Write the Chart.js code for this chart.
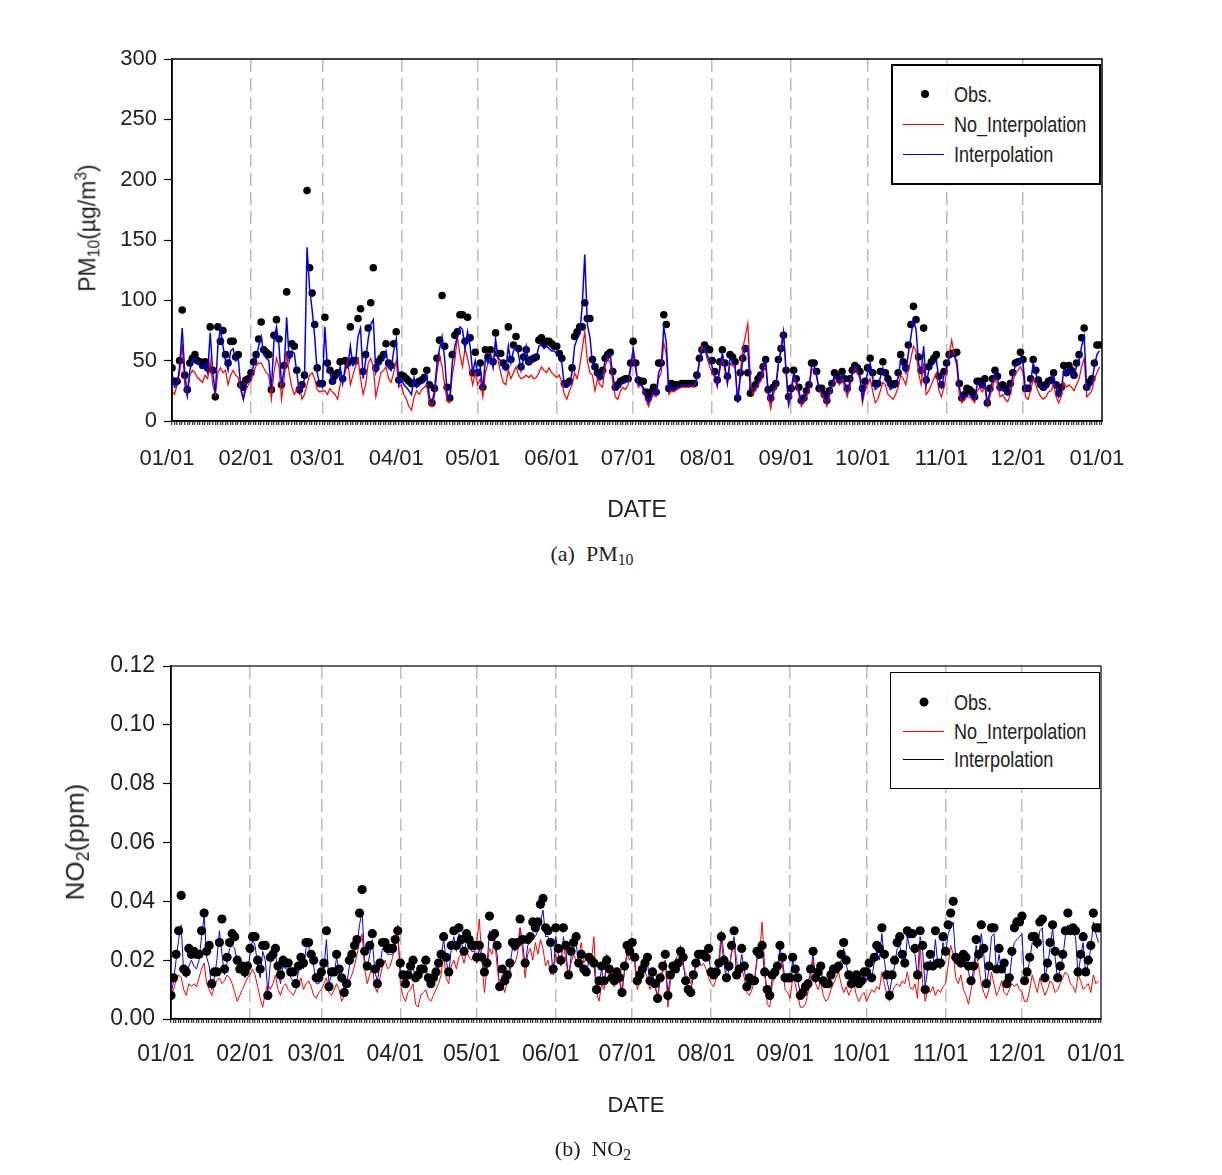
<!DOCTYPE html>
<html><head><meta charset="utf-8">
<script src="https://cdn.jsdelivr.net/npm/chart.js@4.4.1/dist/chart.umd.min.js"></script>
<style>
html,body{margin:0;padding:0;background:#fff;}
body{width:1222px;height:1175px;position:relative;overflow:hidden;font-family:'Liberation Sans',Arial,sans-serif;color:#222;}
canvas{position:absolute;left:0;}
#c1{top:0}
#c2{top:600px}
.ytitle{position:absolute;transform:translate(-50%,-50%) rotate(-90deg);white-space:nowrap;color:#222;font-family:'Liberation Sans',Arial,sans-serif;}
.ytitle sub{font-size:0.68em;vertical-align:-0.3em;}
.ytitle sup{font-size:0.68em;vertical-align:0.55em;}
.legend{position:absolute;border:2px solid #000;background:#fff;box-sizing:border-box;}
.sw{position:absolute;height:0;}
.dot{position:absolute;border-radius:50%;background:#000;transform:translate(-50%,-50%);}
.txt{position:absolute;transform:translateY(-50%) scaleX(0.82);transform-origin:left center;font-family:'Liberation Sans',Arial,sans-serif;white-space:nowrap;color:#222;line-height:1;}
.caption{position:absolute;font-family:'Liberation Serif','DejaVu Serif',serif;font-size:22px;transform:translateX(-50%);white-space:nowrap;color:#222;}
.caption sub{font-size:0.72em;vertical-align:-0.25em;}
</style>
</head>
<body>
<canvas id="c1" width="1222" height="540"></canvas>
<canvas id="c2" width="1222" height="540"></canvas>

<div class="ytitle" style="left:88px;top:228px;font-size:23px;">PM<sub>10</sub>(µg/m<sup>3</sup>)</div>
<div class="ytitle" style="left:77px;top:842px;font-size:26px;">NO<sub>2</sub>(ppm)</div>

<div class="legend" style="left:891px;top:64px;width:210px;height:121px;border-width:2px;">
  <div class="dot" style="left:32px;top:28px;width:8px;height:8px;"></div>
  <div class="sw" style="left:10px;top:58px;width:41px;border-top:1.5px solid #e00000;"></div>
  <div class="sw" style="left:10px;top:88px;width:41px;border-top:1.5px solid #0000c8;"></div>
  <div class="txt" style="left:61px;top:29px;font-size:22px;">Obs.</div>
  <div class="txt" style="left:61px;top:59px;font-size:22px;">No_Interpolation</div>
  <div class="txt" style="left:61px;top:89px;font-size:22px;">Interpolation</div>
</div>

<div class="legend" style="left:890px;top:672px;width:210px;height:117px;border-width:1px;">
  <div class="dot" style="left:33px;top:29px;width:9px;height:9px;"></div>
  <div class="sw" style="left:12px;top:58px;width:41px;border-top:1px solid #ff0000;"></div>
  <div class="sw" style="left:12px;top:86px;width:41px;border-top:1px solid #000;"></div>
  <div class="txt" style="left:63px;top:30px;font-size:22px;">Obs.</div>
  <div class="txt" style="left:63px;top:59px;font-size:22px;">No_Interpolation</div>
  <div class="txt" style="left:63px;top:87px;font-size:22px;">Interpolation</div>
</div>

<div class="caption" style="left:592px;top:541px;">(a)&nbsp; PM<sub>10</sub></div>
<div class="caption" style="left:593px;top:1136px;">(b)&nbsp; NO<sub>2</sub></div>

<script>
// ---- tick labels / categories ----
const monthLabels = ['01/01','02/01','03/01','04/01','05/01','06/01','07/01','08/01','09/01','10/01','11/01','12/01','01/01'];
const monthStarts = [0,31,59,90,120,151,181,212,243,273,304,334,365];
const seriesNames = ['Obs.','No_Interpolation','Interpolation'];

// ---- PM10 (ug/m3), daily ----
const pmObs = [44,33,33,50,92,38,26,48,52,55,
50,49,46,49,44,78,42,20,78,66,
75,55,48,66,66,53,55,30,28,34,
35,40,49,55,68,82,59,57,55,26,
71,84,68,30,46,107,55,64,62,42,
26,30,38,191,127,106,80,44,31,31,
86,48,42,33,38,40,49,35,50,48,
78,50,50,85,93,41,55,77,98,127,
44,49,52,55,64,48,46,64,74,34,
38,37,35,33,31,41,31,33,34,36,
42,30,15,27,52,67,104,62,28,19,
55,71,74,88,88,66,86,69,40,57,
40,48,28,59,53,59,49,73,56,56,
48,45,78,51,63,70,60,45,53,59,
49,51,52,53,67,69,64,66,66,64,
62,62,56,52,31,31,33,44,70,74,
78,78,98,85,85,51,45,40,37,42,
52,55,57,41,28,30,33,34,35,35,
48,66,48,34,33,33,24,19,24,28,
24,48,48,88,80,27,31,28,30,30,
31,31,31,31,31,31,38,52,59,63,
60,59,50,41,34,49,59,48,37,55,
53,49,19,40,52,60,40,23,27,30,
35,38,45,51,26,19,28,31,51,60,
71,42,20,27,42,35,28,17,19,25,
30,48,48,41,27,27,22,17,25,31,
40,37,34,41,35,27,35,42,46,44,
41,27,33,44,52,40,31,31,41,49,
40,35,31,30,31,40,55,49,44,63,
80,95,84,53,42,77,34,45,49,52,
55,37,30,41,48,55,56,56,57,31,
19,22,27,26,24,20,33,33,30,35,
15,27,35,42,37,28,30,27,24,31,
40,48,49,57,51,27,27,35,51,42,
34,30,28,30,33,34,40,30,23,28,
46,40,46,42,38,48,55,69,77,28,
32,35,48,63,63];

const pmInterp = [40,28,30,45,77,40,22,42,50,52,
48,46,44,47,40,73,40,23,62,77,
62,50,42,58,60,50,52,28,18,30,
33,38,46,52,62,70,55,52,50,26,
66,78,62,30,42,86,50,58,56,40,
23,28,35,144,110,92,70,40,30,28,
78,44,40,31,34,36,45,31,45,44,
62,46,48,70,77,35,50,68,80,84,
40,46,48,52,58,44,42,58,68,30,
35,30,28,25,22,36,28,30,32,34,
38,20,15,25,48,60,70,52,22,18,
48,62,70,78,76,60,74,62,40,50,
38,44,26,52,48,55,45,68,52,50,
44,42,62,48,58,62,55,42,52,62,
48,50,52,53,62,64,60,62,60,58,
58,56,52,48,28,28,30,40,62,68,
72,95,138,80,70,48,42,38,34,40,
50,55,55,38,26,28,30,32,32,33,
45,60,45,30,30,28,20,15,20,25,
22,40,45,78,65,25,28,26,28,28,
30,30,30,29,30,30,36,50,58,62,
55,50,45,38,30,45,56,45,32,52,
50,46,15,35,50,62,60,25,25,28,
32,36,45,50,24,16,26,30,48,58,
73,42,15,25,40,33,26,15,18,24,
28,45,46,38,26,25,20,15,24,30,
38,35,32,38,32,24,32,40,46,42,
38,18,30,40,48,36,26,28,36,44,
36,30,26,28,30,36,50,46,40,56,
70,84,76,48,40,62,30,42,46,48,
50,35,28,38,45,52,56,54,50,28,
18,20,22,22,20,18,30,32,28,32,
15,24,33,40,35,25,27,24,22,28,
38,46,48,52,48,25,25,32,48,40,
32,28,26,28,30,32,38,28,20,26,
42,38,44,40,36,45,50,62,70,26,
28,32,45,55,58];

const pmNoInterp = [25,22,30,40,64,30,20,38,42,40,
36,34,32,38,35,50,30,22,40,44,
40,42,30,38,42,38,36,25,18,26,
30,34,40,46,48,48,44,40,38,18,
40,52,45,18,35,55,40,28,22,26,
30,18,22,30,38,40,35,26,24,25,
25,22,27,24,22,18,30,35,40,50,
30,38,45,52,35,22,30,48,52,45,
20,30,40,42,45,35,32,40,50,28,
30,22,18,12,9,20,25,22,26,28,
30,15,12,20,40,55,45,30,16,15,
38,50,70,55,45,60,52,42,30,40,
30,35,20,40,48,55,44,64,50,40,
32,30,42,35,40,45,38,35,36,38,
36,38,35,36,40,45,42,40,44,40,
38,36,38,32,22,18,25,30,40,35,
45,60,74,50,40,38,25,35,30,28,
45,52,48,32,20,18,25,28,26,30,
42,55,42,28,30,25,18,12,18,22,
20,35,40,65,55,22,25,24,26,27,
28,28,28,28,29,28,34,48,62,60,
52,45,40,36,28,42,52,42,30,48,
46,44,18,40,60,70,81,35,22,26,
30,33,40,48,20,10,22,28,45,62,
75,40,12,20,38,30,22,12,16,20,
25,42,44,36,24,22,18,12,20,28,
35,33,30,35,28,20,28,38,44,40,
35,15,26,30,35,25,15,18,25,32,
30,22,20,18,22,28,38,35,30,42,
52,62,58,40,30,48,22,25,30,35,
40,25,20,28,40,55,67,55,45,22,
15,18,20,20,18,15,25,28,24,28,
12,20,28,35,30,20,22,18,16,22,
32,40,42,45,40,20,18,25,35,30,
24,20,18,20,24,25,30,20,15,20,
32,28,30,28,25,30,35,45,52,20,
22,25,35,40,45];

// ---- NO2 (ppm), daily ----
const no2Obs = [0.008,0.014,0.022,0.030,0.042,0.017,0.016,0.024,0.022,0.023,
0.022,0.022,0.030,0.036,0.023,0.025,0.012,0.016,0.016,0.026,
0.034,0.017,0.021,0.026,0.029,0.028,0.020,0.017,0.018,0.016,
0.018,0.024,0.028,0.028,0.020,0.017,0.025,0.025,0.008,0.021,
0.022,0.024,0.018,0.015,0.020,0.019,0.019,0.016,0.016,0.012,
0.018,0.021,0.019,0.026,0.026,0.022,0.020,0.014,0.014,0.016,
0.019,0.030,0.011,0.016,0.016,0.022,0.017,0.014,0.009,0.012,
0.020,0.022,0.025,0.027,0.036,0.044,0.023,0.018,0.025,0.029,
0.017,0.012,0.019,0.026,0.026,0.024,0.024,0.024,0.027,0.030,
0.019,0.015,0.012,0.015,0.018,0.020,0.014,0.015,0.017,0.017,
0.020,0.014,0.012,0.014,0.016,0.019,0.022,0.028,0.021,0.016,
0.025,0.030,0.025,0.031,0.027,0.023,0.029,0.027,0.025,0.025,
0.021,0.025,0.021,0.016,0.019,0.035,0.028,0.029,0.025,0.011,
0.017,0.013,0.015,0.019,0.026,0.025,0.026,0.034,0.027,0.019,
0.027,0.028,0.033,0.031,0.033,0.039,0.041,0.031,0.030,0.026,
0.017,0.031,0.024,0.020,0.031,0.025,0.015,0.023,0.026,0.028,
0.019,0.022,0.017,0.016,0.021,0.020,0.019,0.010,0.013,0.018,
0.013,0.020,0.017,0.014,0.013,0.016,0.014,0.009,0.018,0.025,
0.023,0.026,0.021,0.013,0.015,0.017,0.019,0.021,0.013,0.016,
0.012,0.007,0.014,0.018,0.022,0.008,0.015,0.018,0.017,0.019,
0.023,0.021,0.013,0.010,0.009,0.015,0.019,0.022,0.022,0.022,
0.021,0.024,0.016,0.015,0.016,0.019,0.028,0.020,0.014,0.018,
0.025,0.030,0.015,0.017,0.024,0.018,0.011,0.014,0.013,0.013,
0.023,0.022,0.025,0.016,0.010,0.008,0.015,0.016,0.018,0.025,
0.021,0.014,0.014,0.014,0.021,0.017,0.014,0.008,0.009,0.011,
0.012,0.017,0.023,0.014,0.016,0.018,0.013,0.012,0.012,0.015,
0.017,0.017,0.018,0.022,0.026,0.020,0.015,0.012,0.014,0.015,
0.012,0.013,0.016,0.016,0.019,0.014,0.021,0.025,0.024,0.031,
0.022,0.015,0.008,0.015,0.020,0.026,0.028,0.022,0.019,0.030,
0.029,0.029,0.024,0.015,0.030,0.025,0.010,0.018,0.022,0.018,
0.030,0.019,0.019,0.028,0.023,0.032,0.036,0.040,0.021,0.020,
0.019,0.022,0.021,0.018,0.013,0.018,0.027,0.022,0.032,0.024,
0.012,0.018,0.031,0.031,0.017,0.024,0.017,0.019,0.012,0.014,
0.023,0.031,0.033,0.033,0.035,0.013,0.016,0.021,0.028,0.028,
0.026,0.033,0.034,0.014,0.019,0.026,0.032,0.023,0.014,0.018,
0.022,0.030,0.036,0.030,0.031,0.030,0.016,0.022,0.028,0.016,
0.020,0.025,0.036,0.031,0.031];

const no2Interp = [0.008,0.013,0.020,0.027,0.032,0.015,0.014,0.018,0.020,0.018,
0.017,0.020,0.028,0.035,0.021,0.018,0.010,0.014,0.020,0.030,
0.022,0.015,0.019,0.024,0.025,0.024,0.019,0.017,0.016,0.014,
0.016,0.022,0.027,0.025,0.018,0.014,0.023,0.020,0.009,0.019,
0.020,0.022,0.016,0.012,0.018,0.017,0.017,0.014,0.013,0.011,
0.016,0.019,0.017,0.024,0.025,0.020,0.018,0.012,0.012,0.014,
0.017,0.027,0.012,0.015,0.015,0.021,0.016,0.013,0.010,0.012,
0.018,0.020,0.023,0.025,0.032,0.037,0.020,0.017,0.022,0.027,
0.016,0.013,0.018,0.024,0.024,0.022,0.022,0.022,0.025,0.028,
0.017,0.014,0.012,0.014,0.016,0.018,0.013,0.014,0.016,0.016,
0.018,0.013,0.011,0.013,0.015,0.018,0.021,0.027,0.020,0.015,
0.024,0.028,0.023,0.029,0.026,0.022,0.027,0.025,0.023,0.023,
0.019,0.024,0.020,0.015,0.018,0.030,0.028,0.026,0.022,0.010,
0.015,0.012,0.014,0.018,0.024,0.023,0.025,0.031,0.026,0.018,
0.025,0.026,0.029,0.028,0.030,0.033,0.037,0.028,0.028,0.025,
0.015,0.028,0.022,0.018,0.028,0.023,0.014,0.021,0.024,0.026,
0.018,0.020,0.016,0.015,0.020,0.019,0.018,0.010,0.012,0.017,
0.012,0.019,0.016,0.013,0.012,0.015,0.013,0.008,0.017,0.023,
0.022,0.025,0.020,0.012,0.014,0.016,0.018,0.019,0.012,0.015,
0.011,0.008,0.013,0.017,0.020,0.009,0.014,0.017,0.016,0.018,
0.021,0.020,0.012,0.011,0.010,0.014,0.018,0.020,0.021,0.021,
0.020,0.022,0.015,0.014,0.015,0.018,0.027,0.019,0.013,0.017,
0.023,0.028,0.014,0.016,0.022,0.017,0.011,0.013,0.012,0.013,
0.021,0.021,0.024,0.015,0.010,0.008,0.014,0.015,0.017,0.024,
0.020,0.013,0.013,0.013,0.020,0.016,0.013,0.009,0.009,0.011,
0.012,0.016,0.022,0.013,0.015,0.017,0.013,0.011,0.011,0.014,
0.016,0.016,0.017,0.020,0.024,0.019,0.014,0.012,0.013,0.014,
0.012,0.012,0.015,0.013,0.017,0.014,0.019,0.023,0.020,0.029,
0.020,0.013,0.009,0.014,0.018,0.024,0.025,0.020,0.018,0.028,
0.024,0.023,0.022,0.014,0.028,0.023,0.011,0.017,0.020,0.017,
0.027,0.018,0.017,0.026,0.022,0.029,0.031,0.033,0.020,0.018,
0.018,0.020,0.019,0.016,0.012,0.017,0.025,0.020,0.029,0.022,
0.011,0.017,0.028,0.029,0.016,0.022,0.016,0.018,0.012,0.013,
0.021,0.026,0.027,0.028,0.029,0.012,0.015,0.020,0.026,0.025,
0.024,0.030,0.031,0.014,0.018,0.024,0.031,0.021,0.013,0.017,
0.021,0.028,0.032,0.029,0.029,0.028,0.015,0.021,0.026,0.015,
0.019,0.024,0.033,0.029,0.026];

const no2NoInterp = [0.008,0.010,0.013,0.015,0.014,0.010,0.008,0.012,0.011,0.012,
0.011,0.014,0.017,0.019,0.012,0.010,0.008,0.011,0.013,0.014,
0.012,0.013,0.015,0.014,0.012,0.009,0.006,0.008,0.010,0.012,
0.014,0.015,0.017,0.015,0.011,0.007,0.004,0.009,0.012,0.010,
0.012,0.015,0.010,0.008,0.011,0.012,0.010,0.009,0.008,0.010,
0.012,0.014,0.010,0.012,0.013,0.011,0.008,0.007,0.009,0.010,
0.012,0.014,0.009,0.008,0.010,0.012,0.010,0.006,0.008,0.011,
0.013,0.015,0.018,0.022,0.026,0.029,0.017,0.012,0.015,0.018,
0.011,0.009,0.014,0.018,0.020,0.017,0.018,0.021,0.026,0.032,
0.012,0.008,0.006,0.009,0.010,0.012,0.005,0.004,0.008,0.009,
0.010,0.007,0.006,0.008,0.010,0.012,0.015,0.022,0.014,0.012,
0.018,0.020,0.017,0.021,0.022,0.019,0.023,0.021,0.020,0.022,
0.026,0.034,0.020,0.009,0.017,0.024,0.022,0.027,0.018,0.010,
0.012,0.009,0.013,0.016,0.020,0.019,0.022,0.031,0.023,0.014,
0.022,0.024,0.020,0.026,0.022,0.027,0.024,0.018,0.020,0.015,
0.017,0.022,0.019,0.020,0.025,0.020,0.014,0.019,0.022,0.020,
0.021,0.026,0.019,0.021,0.022,0.020,0.028,0.009,0.006,0.012,
0.010,0.022,0.018,0.012,0.011,0.014,0.013,0.010,0.016,0.022,
0.020,0.025,0.019,0.010,0.013,0.015,0.016,0.014,0.010,0.013,
0.011,0.007,0.014,0.016,0.020,0.004,0.013,0.018,0.020,0.022,
0.025,0.018,0.015,0.014,0.012,0.015,0.019,0.020,0.018,0.019,
0.017,0.014,0.012,0.011,0.014,0.020,0.030,0.022,0.016,0.018,
0.022,0.026,0.020,0.014,0.017,0.014,0.009,0.008,0.010,0.013,
0.020,0.022,0.033,0.018,0.005,0.004,0.012,0.014,0.016,0.022,
0.018,0.010,0.009,0.007,0.014,0.012,0.008,0.004,0.004,0.005,
0.009,0.014,0.020,0.012,0.010,0.013,0.008,0.006,0.007,0.010,
0.012,0.014,0.016,0.012,0.009,0.011,0.008,0.010,0.012,0.008,
0.006,0.008,0.009,0.006,0.008,0.010,0.009,0.011,0.010,0.016,
0.012,0.008,0.006,0.009,0.011,0.012,0.011,0.013,0.012,0.016,
0.011,0.010,0.012,0.007,0.025,0.012,0.006,0.010,0.009,0.011,
0.008,0.010,0.009,0.011,0.012,0.018,0.025,0.022,0.014,0.012,
0.015,0.010,0.008,0.005,0.010,0.014,0.022,0.018,0.012,0.009,
0.007,0.010,0.016,0.012,0.008,0.010,0.013,0.009,0.008,0.010,
0.012,0.011,0.012,0.010,0.009,0.006,0.006,0.010,0.015,0.012,
0.009,0.014,0.011,0.008,0.010,0.013,0.012,0.009,0.010,0.012,
0.014,0.016,0.015,0.012,0.011,0.009,0.015,0.013,0.010,0.011,
0.012,0.009,0.015,0.012,0.013];

// ---- helpers (build library structures from the arrays) ----
const toXY = arr => arr.map((v, i) => ({x: i, y: v}));
const dayTicks = Array.from({length: 366}, (_, i) => i);

const framePlugin = {
  id: 'frame',
  afterDraw(chart, args, opts) {
    const a = chart.chartArea, c = chart.ctx;
    c.save();
    c.setLineDash([]);
    c.strokeStyle = '#000';
    c.lineWidth = opts.width || 1.5;
    c.strokeRect(a.left, a.top, a.right - a.left, a.bottom - a.top);
    c.restore();
  }
};

function makeChart(id, cfg) {
  const isInner = v => v > 0 && v < 365 && monthStarts.includes(v);
  return new Chart(document.getElementById(id), {
    type: 'line',
    data: {
      datasets: [
        {label: seriesNames[0], data: toXY(cfg.obs), showLine: false, pointRadius: cfg.dotR, pointHoverRadius: cfg.dotR,
         pointBackgroundColor: '#000', pointBorderColor: '#000', pointBorderWidth: 0, order: cfg.obsOrder},
        {label: seriesNames[1], data: toXY(cfg.noInterp), borderColor: cfg.redColor, borderWidth: cfg.redW, pointRadius: 0, tension: 0, order: 2},
        {label: seriesNames[2], data: toXY(cfg.interp), borderColor: cfg.blueColor, borderWidth: cfg.blueW, pointRadius: 0, tension: 0, order: cfg.blueOrder}
      ]
    },
    options: {
      responsive: false,
      animation: false,
      events: [],
      layout: {padding: {left: 0, right: cfg.padRight, top: cfg.padTop, bottom: 0}},
      plugins: {legend: {display: false}, tooltip: {enabled: false}, frame: {width: cfg.frameW}},
      scales: {
        x: {
          type: 'linear', min: 0, max: 365,
          afterBuildTicks: s => { s.ticks = dayTicks.map(v => ({value: v})); },
          afterFit: s => { s.height = cfg.xHeight; },
          ticks: {
            autoSkip: false, maxRotation: 0, minRotation: 0,
            padding: cfg.xPad, labelOffset: -5, color: '#222', font: cfg.tickFont,
            callback: v => { const k = monthStarts.indexOf(v); return k >= 0 ? monthLabels[k] : ''; }
          },
          grid: {
            drawOnChartArea: true, drawTicks: true, tickLength: 4, tickWidth: 1, tickColor: '#000',
            color: ctx => (ctx.tick && isInner(ctx.tick.value)) ? '#bdbdbd' : 'rgba(0,0,0,0)',
            lineWidth: 1.5, tickBorderDash: []
          },
          border: {display: true, color: '#000', width: 1.5, dash: [13, 6]},
          title: {display: true, text: 'DATE', color: '#222', font: cfg.titleFont, padding: {top: 0, bottom: cfg.titlePad}}
        },
        y: {
          min: cfg.yMin, max: cfg.yMax,
          afterFit: s => { s.width = cfg.yWidth; },
          ticks: {stepSize: cfg.yStep, padding: cfg.yPad, color: '#222', font: cfg.tickFont, callback: cfg.yFmt},
          grid: {drawOnChartArea: false, drawTicks: true, tickLength: 8, tickWidth: 1.2, tickColor: '#000'},
          border: {display: true, color: '#000', width: 1.5}
        }
      }
    },
    plugins: [framePlugin]
  });
}

const regular = "'Liberation Sans',Arial,sans-serif";

makeChart('c1', {
  obs: pmObs, interp: pmInterp, noInterp: pmNoInterp,
  dotR: 3.8, obsOrder: 3, blueOrder: 1,
  redColor: '#ff0000', blueColor: '#0000f0', redW: 1.2, blueW: 1.5,
  padRight: 120, padTop: 59, xHeight: 119, yWidth: 172,
  xPad: 21, yPad: 7, titlePad: 16, frameW: 1.5,
  tickFont: {family: regular, size: 22}, titleFont: {family: regular, size: 23},
  yMin: 0, yMax: 300, yStep: 50, yFmt: v => String(v)
});

makeChart('c2', {
  obs: no2Obs, interp: no2Interp, noInterp: no2NoInterp,
  dotR: 4.6, obsOrder: 1, blueOrder: 3,
  redColor: '#ff0000', blueColor: '#0000ff', redW: 1, blueW: 1,
  padRight: 121, padTop: 66, xHeight: 121, yWidth: 171,
  xPad: 18, yPad: 8, titlePad: 21, frameW: 1.2,
  tickFont: {family: regular, size: 23}, titleFont: {family: regular, size: 22},
  yMin: 0, yMax: 0.12, yStep: 0.02, yFmt: v => v.toFixed(2)
});
</script>
</body></html>
